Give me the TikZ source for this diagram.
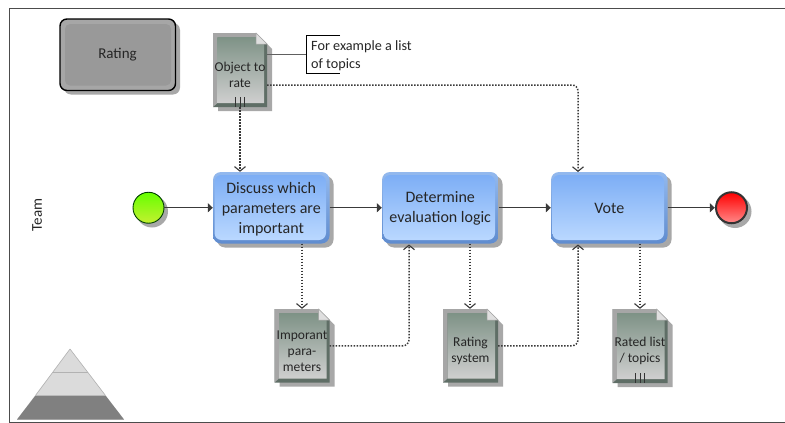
\documentclass[tikz,border=0pt]{standalone}
\usepackage{fontspec}
\setmainfont{Carlito}
\usetikzlibrary{arrows.meta,calc}
\definecolor{ink}{HTML}{3A3A3A}
\definecolor{shadowgray}{HTML}{A8A8A8}
\definecolor{taskedgetop}{HTML}{93B9EE}
\definecolor{taskedgebot}{HTML}{5F8CCF}
\definecolor{docedge}{HTML}{5F6E66}
\definecolor{taskfilltop}{HTML}{7DAEF5}
\definecolor{taskfillbot}{HTML}{BAD8FF}
\definecolor{docfilltop}{HTML}{7E9286}
\definecolor{docfillbot}{HTML}{CFCFCF}
\definecolor{startA}{HTML}{66FF00}
\definecolor{startB}{HTML}{C4F030}
\definecolor{endA}{HTML}{FF0000}
\definecolor{endB}{HTML}{FF8A8A}
\tikzset{
  x=1pt,y=-1pt,
  flow/.style={draw=ink,line width=1.4pt,-{Triangle[length=5pt,width=9pt]}},
  assoc/.style={draw=ink,line width=1.5pt,dash pattern=on 1.5pt off 1.5pt,rounded corners=6pt,-{Straight Barb[length=4.5pt,width=11pt,line width=1.1pt]}},
  lab/.style={font=\fontsize{16}{20}\selectfont,align=center,text=black!85},
  smalllab/.style={font=\fontsize{15}{19}\selectfont,align=center,text=black!85},
  doclab/.style={font=\fontsize{13.5}{16}\selectfont,align=center,text=black!85},
}
% name, x0, y0, x1, y1, text
\newcommand{\taskbox}[6]{%
  \fill[shadowgray,rounded corners=8pt] (#2+4,#3+4) rectangle (#4+4,#5+4);
  \shade[rounded corners=8pt,top color=taskedgetop,bottom color=taskedgebot] (#2,#3) rectangle (#4,#5);
  \shade[rounded corners=7pt,top color=taskfilltop,bottom color=taskfillbot] (#2+1.5,#3+3) rectangle (#4-3.5,#5-3.5);
  \node[inner sep=0pt,minimum width=#4pt-#2pt,minimum height=#5pt-#3pt] (#1) at ({(#2+#4)/2},{(#3+#5)/2}) {};
  \node[lab,inner sep=0pt] (#1-text) at ({(#2+#4)/2},{(#3+#5)/2+1}) {#6};
}
% name, x0, y0, x1, y1, text
\newcommand{\docbox}[6]{%
  \fill[shadowgray] (#2+5,#3+5) -- (#4-6,#3+5) -- (#4+5,#3+16) -- (#4+5,#5+4) -- (#2+5,#5+4) -- cycle;
  \fill[docedge] (#2,#3) -- (#4-11,#3) -- (#4,#3+11) -- (#4,#5) -- (#2,#5) -- cycle;
  \fill[gray!70] (#2,#3) -- (#4-11,#3) -- (#4-11,#3+4) -- (#2+4.5,#3+4) -- (#2+4.5,#5-4) -- (#2,#5) -- cycle;
  \shade[top color=docfilltop,bottom color=docfillbot] (#2+4.5,#3+4) -- (#4-11,#3+4) -- (#4-11,#3+11) -- (#4-3,#3+11) -- (#4-3,#5-4) -- (#2+4.5,#5-4) -- cycle;
  \filldraw[fill=gray!25,draw=gray!70,line width=.5pt] (#4-11,#3) -- (#4,#3+11) -- (#4-11,#3+11) -- cycle;
  \node[inner sep=0pt,minimum width=#4pt-#2pt,minimum height=#5pt-#3pt] (#1) at ({(#2+#4)/2},{(#3+#5)/2}) {};
  \node[doclab,inner sep=0pt] (#1-text) at ({(#2+#4)/2},{(#3+#5)/2+5}) {#6};
}
% three marker bars at the bottom of a document
\newcommand{\bars}[1]{%
  \foreach \d in {-4.5,0,4.5}
    \draw[black!80,line width=.8pt] ($(#1.south)+(\d,-10)$) -- ($(#1.south)+(\d,0)$);
}
\begin{document}
\begin{tikzpicture}
\useasboundingbox (0,0) rectangle (785,423);
\fill[white] (0,0) rectangle (785,423);
% frame
\draw[gray!60!black,line width=.9pt] (785,8.5) -- (9.5,8.5) -- (9.5,422) -- (785,422);
% pyramid
\fill[gray!28] (70,349) -- (17,419.5) -- (124,419.5) -- cycle;
\fill[gray] (35.5,395.5) -- (105.5,395.5) -- (124,419.5) -- (17,419.5) -- cycle;
\draw[gray!60,line width=1pt] (53,372) -- (88,372);
\draw[gray!60,line width=.6pt] (70,349) -- (35.5,395.5) (70,349) -- (105.5,395.5);
% team
\node[smalllab,rotate=90,inner sep=0pt] (team) at (37,215) {Team};
% rating
\fill[shadowgray,rounded corners=7pt] (64,23) rectangle (180,94.5);
\filldraw[draw=black,line width=1.4pt,rounded corners=7pt,fill=gray!70] (60,19) rectangle (175.5,90.5);
\fill[rounded corners=5pt,fill=black!40] (65,24) rectangle (171,85.5);
\node[smalllab,inner sep=0pt,minimum width=115pt,minimum height=71pt] (rating) at (117.5,54.5) {Rating};
% nodes
\docbox{obj}{213}{33}{267}{107}{Object to\\rate}
\docbox{imp}{274.5}{309}{329.5}{382.5}{Imporant\\para-\\meters}
\docbox{ratesys}{443}{309}{498}{382.5}{Rating\\system}
\docbox{ratedlist}{612.5}{309}{667.5}{383}{Rated list\\/ topics}
\bars{obj}
\bars{ratedlist}
\taskbox{disc}{213}{172}{329.5}{243.5}{Discuss which\\parameters are\\important}
\taskbox{det}{382}{172}{498.5}{243.5}{Determine\\evaluation logic}
\taskbox{vote}{551}{172}{667.5}{243.5}{Vote}
% events
\fill[shadowgray] (152,211.5) circle (16);
\shade[top color=startA,bottom color=startB] (148.5,207.75) circle (15.5);
\draw[black!75!green,line width=.9pt] (148.5,207.75) circle (15.5);
\node[inner sep=0pt,minimum size=31pt,circle] (start) at (148.5,207.75) {};
\fill[shadowgray] (735,211.5) circle (16.5);
\shade[top color=endA,bottom color=endB] (731.5,207.75) circle (15.5);
\draw[black!80,line width=2pt] (731.5,207.75) circle (15.5);
\node[inner sep=0pt,minimum size=33pt,circle] (stop) at (731.5,207.75) {};
% annotation
\node[inner sep=0pt,anchor=west,font=\fontsize{14.2}{17.5}\selectfont,align=left,text=black!85] (note) at (311,55.5) {For example a list\\of topics};
\coordinate (notel) at (306,54);
\draw[black,line width=1pt] (340,35) -- (306,35) -- (306,73) -- (340,73);
\draw[gray!75!black,line width=.6pt] (obj.east |- notel) -- (notel);
% sequence flows
\draw[flow] (start.east) -- (disc.west);
\draw[flow] (disc.east) -- (det.west);
\draw[flow] (det.east) -- (vote.west);
\draw[flow] (vote.east) -- (stop.west);
% associations
\coordinate (voteTop) at (578,172);
\coordinate (voteBot) at (578,244.5);
\coordinate (detBot) at (409,244.5);
\draw[assoc] (obj.south) -- (obj.south |- disc.north);
\draw[assoc] ($(obj.east)+(0,15)$) -| (voteTop);
\draw[assoc] (imp.north |- disc.south) -- (imp.north);
\draw[assoc] (imp.east) -| (detBot);
\draw[assoc] ($(ratesys.north |- det.south)+(-0.5,0)$) -- ($(ratesys.north)+(-0.5,0)$);
\draw[assoc] (ratesys.east) -| (voteBot);
\draw[assoc] (ratedlist.north |- vote.south) -- (ratedlist.north);
\end{tikzpicture}
\end{document}
